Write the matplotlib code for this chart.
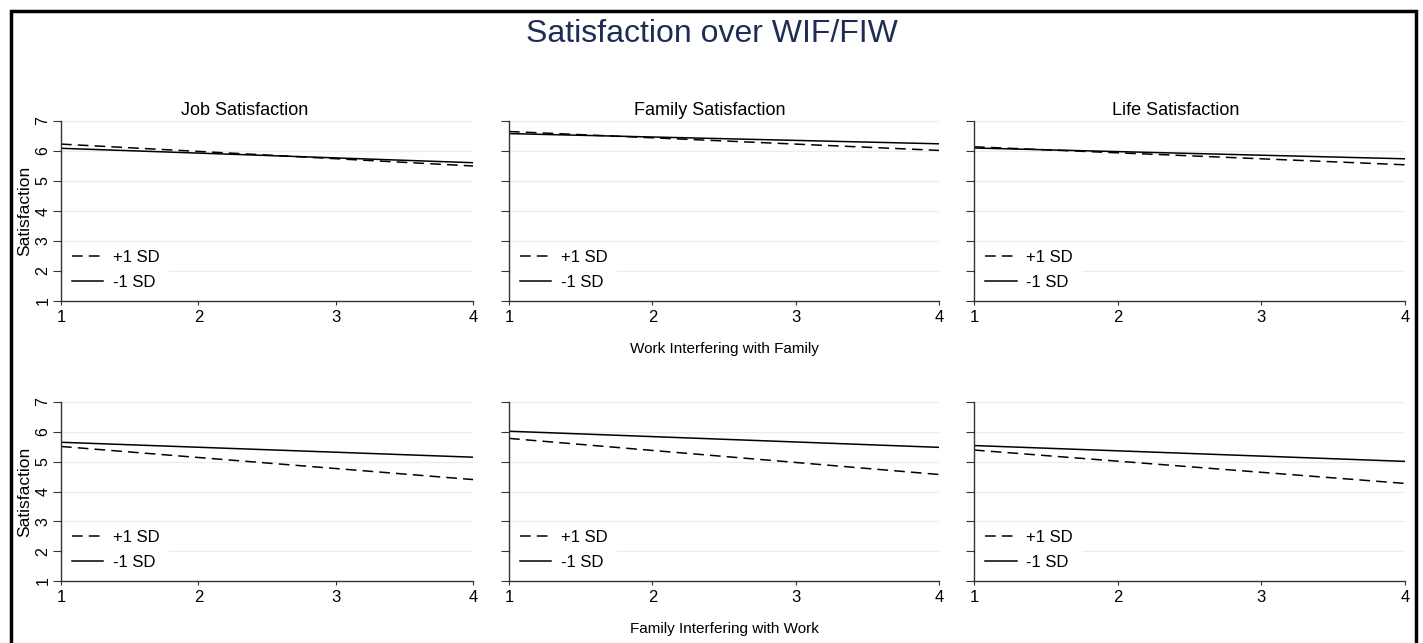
import numpy
from matplotlib import pyplot
from matplotlib.patches import Rectangle

pyplot.rcParams['font.family'] = ['Liberation Sans', 'DejaVu Sans']

x_levels = [1, 4]
outcomes = ['Job Satisfaction', 'Family Satisfaction', 'Life Satisfaction']

# top row: work interfering with family
wif_plus = [[6.23, 5.50], [6.65, 6.02], [6.14, 5.54]]
wif_minus = [[6.09, 5.61], [6.58, 6.24], [6.10, 5.74]]
# bottom row: family interfering with work
fiw_plus = [[5.51, 4.40], [5.78, 4.57], [5.39, 4.27]]
fiw_minus = [[5.65, 5.15], [6.02, 5.48], [5.54, 5.01]]

row_xlabels = ['Work Interfering with Family', 'Family Interfering with Work']
legend_labels = ['+1 SD', '-1 SD']

W, H = 1423, 643
fig = pyplot.figure(figsize=(W / 100, H / 100), dpi=100)

col_px = [(61, 473), (509, 939), (974, 1405)]
row_px = [(121, 301), (402, 581)]
title_shift = [22, 14, 14]

spine_col = '#333333'
for r, (plus, minus) in enumerate([(wif_plus, wif_minus), (fiw_plus, fiw_minus)]):
    for c in range(3):
        x0, x1 = col_px[c]
        y0, y1 = row_px[r]
        ax = fig.add_axes([x0 / W, 1 - y1 / H, (x1 - x0) / W, (y1 - y0) / H])
        for y in range(2, 8):
            ax.axhline(y, color='#ececec', linewidth=1.0, zorder=0)
        ax.plot(x_levels, plus[c], color='black', linewidth=1.1,
                dashes=(7, 4), label=legend_labels[0])
        ax.plot(x_levels, minus[c], color='black', linewidth=1.1,
                label=legend_labels[1])
        ax.set_xlim(1, 4)
        ax.set_ylim(1, 7)
        ax.set_xticks([1, 2, 3, 4])
        ax.set_yticks(range(1, 8))
        for s in ['top', 'right']:
            ax.spines[s].set_visible(False)
        for s in ['left', 'bottom']:
            ax.spines[s].set_color(spine_col)
            ax.spines[s].set_linewidth(1.0)
        ax.tick_params(axis='x', length=3, color=spine_col, labelsize=12, pad=3.5)
        ax.tick_params(axis='y', length=5.5, color=spine_col, labelsize=11.5, pad=2)
        if c == 0:
            ax.set_ylabel('Satisfaction', fontsize=12.5)
            ax.yaxis.set_label_coords(-0.07, 0.5)
            for lab in ax.get_yticklabels():
                lab.set_rotation(90)
                lab.set_va('center')
        else:
            ax.set_yticklabels([])
        if r == 0:
            ax.set_title(outcomes[c], fontsize=13, pad=4,
                         x=0.5 - title_shift[c] / (x1 - x0))
        if c == 1:
            ax.set_xlabel(row_xlabels[r], fontsize=11, labelpad=12)
        leg = ax.legend(loc='lower left', bbox_to_anchor=(0.0, 0.0),
                        frameon=True, fancybox=False, fontsize=12,
                        handlelength=1.9, handletextpad=0.6,
                        labelspacing=0.6, borderpad=0.45, borderaxespad=0.2)
        leg.get_frame().set_facecolor('white')
        leg.get_frame().set_edgecolor('white')
        leg.get_frame().set_alpha(1.0)

fig.text(0.5, 1 - 34 / H, 'Satisfaction over WIF/FIW', ha='center', va='center',
         fontsize=23, color='#1f2d55')

fig.patches.append(Rectangle((11 / W, -0.05), (1416 - 11) / W, 1.05 - 11 / H,
                             transform=fig.transFigure, fill=False,
                             edgecolor='black', linewidth=2.5))

fig.savefig('out.png', dpi=100)
